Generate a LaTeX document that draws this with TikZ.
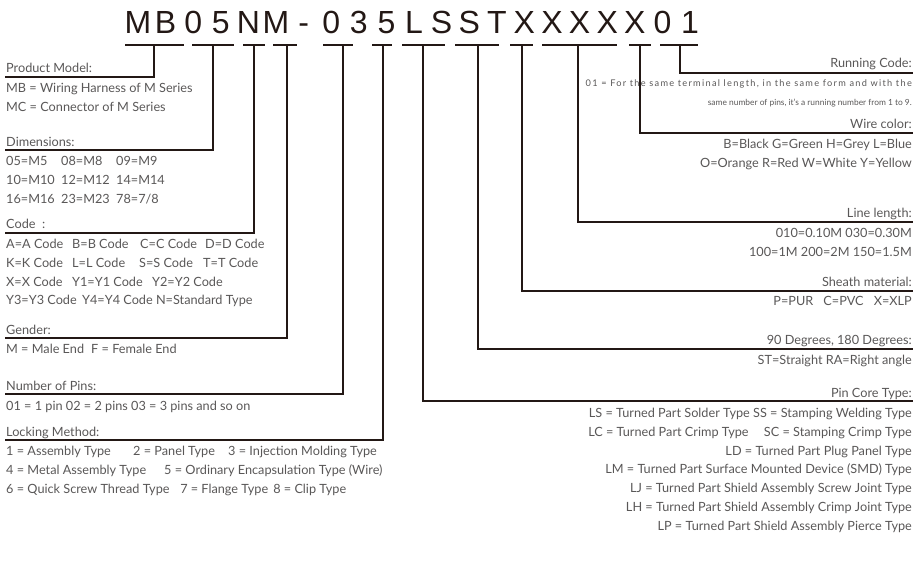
\documentclass[tikz,border=0pt]{standalone}
\usepackage{fontspec}
\setmainfont{Lato}
\newfontfamily\codefont{Liberation Sans}
\definecolor{ink}{HTML}{231815}
\definecolor{label}{HTML}{595757}
\tikzset{
  lead/.style={draw=ink, line width=1.6pt},
  head/.style={font=\fontsize{12.7}{18.8}\selectfont, text=label, inner sep=0pt},
  desc/.style={font=\fontsize{12.7}{18.8}\selectfont, text=label, inner sep=0pt},
  tinydesc/.style={font=\fontsize{8.4}{18.8}\selectfont, text=label, inner sep=0pt},
  codechar/.style={font=\codefont\fontsize{32}{32}\selectfont, text=ink, inner sep=0pt, anchor=base},
}
\newcommand{\col}[2]{\makebox[#1pt][l]{#2}}

\begin{document}
\begin{tikzpicture}[x=1pt,y=-1pt]
  \useasboundingbox (0,0) rectangle (922,571);

  % part number
  \foreach \ch [count=\i from 0] in {M,B,0,5,N,M,-,0,3,5,L,S,S,T,X,X,X,X,X,0,1}
    \node[codechar] (ch\i) at ({138+27.6*\i},33) {\ch};

  % tee bars under the groups
  \foreach \a/\b/\m [count=\k] in {125/184/154, 192/234/213, 243/265/254, 273/297/287,
      323/353/343, 372/392/383, 402/445/423, 455/499/478, 510/533/522,
      542/617/578, 629/651/640, 660/698/680}
  {
    \draw[lead] (\a,45) -- (\b,45);
    \coordinate (t\k) at (\m,45);
  }

  % left column
  \node[head, anchor=base west] (model) at (6,72) {Product Model:};
  \node[desc, anchor=north west, align=left] (modeltxt) at (6,83)
    {MB = Wiring Harness of M Series\\MC = Connector of M Series};
  \coordinate (modelL) at (5,77);

  \node[head, anchor=base west] (dim) at (6,146) {Dimensions:};
  \node[desc, anchor=north west, align=left] (dimtxt) at (6,156)
    {\col{55}{05=M5}\col{55}{08=M8}09=M9\\
     \col{55}{10=M10}\col{55}{12=M12}14=M14\\
     \col{55}{16=M16}\col{55}{23=M23}78=7/8};
  \coordinate (dimL) at (5,150);

  \node[head, anchor=base west] (code) at (6,228) {Code\ \ :};
  \node[desc, anchor=north west, align=left] (codetxt) at (6,239)
    {\col{66}{A=A Code}\col{68}{B=B Code}\col{65}{C=C Code}D=D Code\\
     \col{66}{K=K Code}\col{67}{L=L Code}\col{64}{S=S Code}T=T Code\\
     \col{66}{X=X Code}\col{80}{Y1=Y1 Code}Y2=Y2 Code\\
     \col{76}{Y3=Y3 Code}Y4=Y4 Code N=Standard Type};
  \coordinate (codeL) at (5,233);

  \node[head, anchor=base west] (gender) at (6,334) {Gender:};
  \node[desc, anchor=north west, align=left] (gendertxt) at (6,344)
    {\col{85}{M = Male End}F = Female End};
  \coordinate (genderL) at (5,338);

  \node[head, anchor=base west] (pins) at (6,390) {Number of Pins:};
  \node[desc, anchor=north west, align=left] (pinstxt) at (6,401)
    {01 = 1 pin 02 = 2 pins 03 = 3 pins and so on};
  \coordinate (pinsL) at (5,394);

  \node[head, anchor=base west] (lock) at (6,436) {Locking Method:};
  \node[desc, anchor=north west, align=left] (locktxt) at (6,446)
    {\col{127}{1 = Assembly Type}\col{95}{2 = Panel Type}3 = Injection Molding Type\\
     \col{158}{4 = Metal Assembly Type}5 = Ordinary Encapsulation Type (Wire)\\
     \col{174}{6 = Quick Screw Thread Type}\col{93}{7 = Flange Type}8 = Clip Type};
  \coordinate (lockL) at (5,440);

  % right column
  \node[head, anchor=base east] (run) at (912,67) {Running Code:};
  \node[tinydesc, anchor=north east, align=right] (runtxt) at (912,80)
    {{\fontsize{9.2}{18.8}\selectfont\addfontfeature{LetterSpace=14}01 = For the same terminal length, in the same form and with the}\\
     same number of pins, it's a running number from 1 to 9.};
  \coordinate (runR) at (913,73);

  \node[head, anchor=base east] (wire) at (912,128) {Wire color:};
  \node[desc, anchor=north east, align=right] (wiretxt) at (912,139)
    {B=Black G=Green H=Grey L=Blue\\O=Orange R=Red W=White Y=Yellow};
  \coordinate (wireR) at (913,133);

  \node[head, anchor=base east] (len) at (912,217) {Line length:};
  \node[desc, anchor=north east, align=right] (lentxt) at (912,228)
    {010=0.10M 030=0.30M\\100=1M 200=2M 150=1.5M};
  \coordinate (lenR) at (913,222);

  \node[head, anchor=base east] (sheath) at (912,286) {Sheath material:};
  \node[desc, anchor=north east, align=right] (sheathtxt) at (912,296)
    {P=PUR\hspace{0.8em}C=PVC\hspace{0.8em}X=XLP};
  \coordinate (sheathR) at (913,291);

  \node[head, anchor=base east] (angle) at (912,344) {90 Degrees, 180 Degrees:};
  \node[desc, anchor=north east, align=right] (angletxt) at (912,355)
    {ST=Straight RA=Right angle};
  \coordinate (angleR) at (913,349);

  \node[head, anchor=base east] (core) at (912,397) {Pin Core Type:};
  \node[desc, anchor=north east, align=right] (coretxt) at (912,408)
    {LS = Turned Part Solder Type SS = Stamping Welding Type\\
     LC = Turned Part Crimp Type\hspace{1.2em}SC = Stamping Crimp Type\\
     LD = Turned Part Plug Panel Type\\
     LM = Turned Part Surface Mounted Device (SMD) Type\\
     LJ = Turned Part Shield Assembly Screw Joint Type\\
     LH = Turned Part Shield Assembly Crimp Joint Type\\
     LP = Turned Part Shield Assembly Pierce Type};
  \coordinate (coreR) at (913,401);

  % leaders
  \draw[lead] (t1) |- (modelL);
  \draw[lead] (t2) |- (dimL);
  \draw[lead] (t3) |- (codeL);
  \draw[lead] (t4) |- (genderL);
  \draw[lead] (t5) |- (pinsL);
  \draw[lead] (t6) |- (lockL);
  \draw[lead] (t7) |- (coreR);
  \draw[lead] (t8) |- (angleR);
  \draw[lead] (t9) |- (sheathR);
  \draw[lead] (t10) |- (lenR);
  \draw[lead] (t11) |- (wireR);
  \draw[lead] (t12) |- (runR);
\end{tikzpicture}
\end{document}
